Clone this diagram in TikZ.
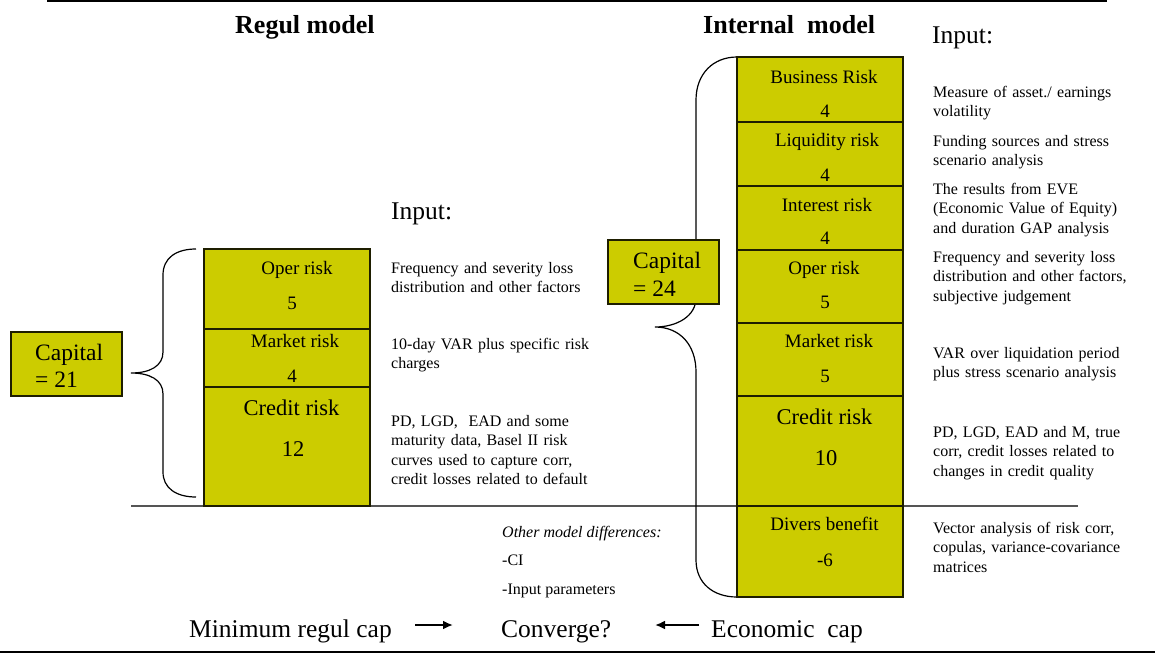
\documentclass[tikz,border=0pt]{standalone}
\usepackage{fontspec}
\setmainfont{Liberation Serif}
\usetikzlibrary{arrows.meta}
\definecolor{boxfill}{RGB}{204,204,0}
\definecolor{boxline}{RGB}{30,30,0}
\definecolor{midline}{RGB}{85,85,85}
\tikzset{
  riskbox/.style={draw=boxline, fill=boxfill, line width=1.5pt, inner sep=0pt, outer sep=0pt},
  lbl/.style={font=\fontsize{19}{22}\selectfont, anchor=base, inner sep=0pt},
  biglbl/.style={font=\fontsize{22.5}{26}\selectfont, anchor=base, inner sep=0pt},
  caplbl/.style={font=\fontsize{23.5}{27}\selectfont, anchor=base west, inner sep=0pt},
  inp/.style={font=\fontsize{16}{19.5}\selectfont, anchor=base west, inner sep=0pt, text width=250pt, align=left},
  note/.style={font=\fontsize{16}{19.5}\selectfont, anchor=base west, inner sep=0pt},
  ttl/.style={font=\fontsize{26}{30}\selectfont\bfseries, anchor=base west, inner sep=0pt},
  big/.style={font=\fontsize{25.5}{30}\selectfont, anchor=base west, inner sep=0pt},
  brace/.style={draw=black, line width=1.2pt},
  arr/.style={line width=2.2pt, -{Latex[length=10pt,width=9pt]}}
}
\begin{document}
\begin{tikzpicture}[x=1pt,y=-1pt]
\useasboundingbox (0,0) rectangle (1155,653);
% frame lines
\draw[line width=1.5pt] (47,0.8) -- (1107,0.8);
\draw[line width=2pt] (0,652) -- (1155,652);
\draw[midline, line width=1.5pt] (131,506) -- (1078,506);

% titles
\node[ttl] (tregul) at (235,33) {Regul model};
\node[ttl] (tint) at (703,33) {Internal\ \ model};
\node[big] (inR) at (932,43) {Input:};
\node[big] (inL) at (391,219) {Input:};

% braces
\draw[brace] (196,249) .. controls (176,249) and (163,258) .. (163,275) -- (163,352)
  .. controls (163,366) and (150,373) .. (131,373)
  .. controls (150,373) and (163,380) .. (163,394) -- (163,472)
  .. controls (163,488) and (176,497) .. (196,497);
\draw[brace] (737,57) .. controls (713,57) and (696,74) .. (696,100) -- (696,298)
  .. controls (696,316) and (677,327) .. (655,327)
  .. controls (680,327) and (696,345) .. (696,372) -- (696,560)
  .. controls (696,583) and (713,597) .. (737,597);

% left stack
\node[riskbox, minimum width=166pt, minimum height=80pt] (lop) at (287,289) {};
\node[riskbox, minimum width=166pt, minimum height=58pt] (lmk) at (287,358) {};
\node[riskbox, minimum width=166pt, minimum height=119pt] (lcr) at (287,446.5) {};
\node[riskbox, minimum width=111pt, minimum height=64pt] (capL) at (66.5,364) {};

% right stack
\node[riskbox, minimum width=166pt, minimum height=65pt] (rbu) at (820,89.5) {};
\node[riskbox, minimum width=166pt, minimum height=64pt] (rli) at (820,154) {};
\node[riskbox, minimum width=166pt, minimum height=64pt] (rin) at (820,218) {};
\node[riskbox, minimum width=166pt, minimum height=73pt] (rop) at (820,286.5) {};
\node[riskbox, minimum width=166pt, minimum height=73pt] (rmk) at (820,359.5) {};
\node[riskbox, minimum width=166pt, minimum height=110pt] (rcr) at (820,451) {};
\node[riskbox, minimum width=166pt, minimum height=91pt] (rdv) at (820,551.5) {};
\node[riskbox, minimum width=111pt, minimum height=64pt] (capR) at (663.5,272) {};

% left labels
\node[lbl] (lopT) at (297,274) {Oper risk};
\node[lbl] (lopN) at (292,309) {5};
\node[lbl] (lmkT) at (295,347) {Market risk};
\node[lbl] (lmkN) at (292,382) {4};
\node[biglbl] (lcrT) at (291.5,415) {Credit risk};
\node[biglbl] (lcrN) at (293,456) {12};
\node[caplbl] (capLT) at (35,360) {Capital};
\node[caplbl] (capLN) at (35,387) {= 21};

% right labels
\node[lbl] (rbuT) at (824,83) {Business Risk};
\node[lbl] (rbuN) at (825,117) {4};
\node[lbl] (rliT) at (827,146) {Liquidity risk};
\node[lbl] (rliN) at (825,181) {4};
\node[lbl] (rinT) at (827,211) {Interest risk};
\node[lbl] (rinN) at (825,244) {4};
\node[lbl] (ropT) at (824,274) {Oper risk};
\node[lbl] (ropN) at (825,308) {5};
\node[lbl] (rmkT) at (829,347) {Market risk};
\node[lbl] (rmkN) at (825,382) {5};
\node[biglbl] (rcrT) at (824.5,424) {Credit risk};
\node[biglbl] (rcrN) at (826,465) {10};
\node[lbl] (rdvT) at (824.5,530) {Divers benefit};
\node[lbl] (rdvN) at (825,566) {-6};
\node[caplbl] (capRT) at (633,268) {Capital};
\node[caplbl] (capRN) at (633,296) {= 24};

% left inputs
\node[inp] (iL1) at (391,273) {Frequency and severity loss\\distribution and other factors};
\node[inp] (iL2) at (391,349) {10-day VAR plus specific risk\\charges};
\node[inp] (iL3) at (391,426) {PD, LGD,\ \ EAD and some\\maturity data, Basel II risk\\curves used to capture corr,\\credit losses related to default};

% right inputs
\node[inp] (iR1) at (933,97) {Measure of asset./ earnings\\volatility};
\node[inp] (iR2) at (933,146) {Funding sources and stress\\scenario analysis};
\node[inp] (iR3) at (933,194) {The results from EVE\\(Economic Value of Equity)\\and duration GAP analysis};
\node[inp] (iR4) at (933,262) {Frequency and severity loss\\distribution and other factors,\\subjective judgement};
\node[inp] (iR5) at (933,358) {VAR over liquidation period\\plus stress scenario analysis};
\node[inp] (iR6) at (933,437) {PD, LGD, EAD and M, true\\corr, credit losses related to\\changes in credit quality};
\node[inp] (iR7) at (933,533) {Vector analysis of risk corr,\\copulas, variance-covariance\\matrices};

% other differences
\node[note, font=\fontsize{16}{19.5}\selectfont\itshape] (od1) at (502,537) {Other model differences:};
\node[note] (od2) at (502,565) {-CI};
\node[note] (od3) at (502,594) {-Input parameters};

% bottom row
\node[big] (minreg) at (189,637) {Minimum regul cap};
\node[big] (conv) at (501,637) {Converge?};
\node[big] (econ) at (711,637) {Economic\ \ cap};
\coordinate (a1s) at (415,625);
\coordinate (a1e) at (453,625);
\coordinate (a2s) at (699,625);
\coordinate (a2e) at (655,625);
\draw[arr] (a1s) -- (a1e);
\draw[arr] (a2s) -- (a2e);
\end{tikzpicture}
\end{document}
